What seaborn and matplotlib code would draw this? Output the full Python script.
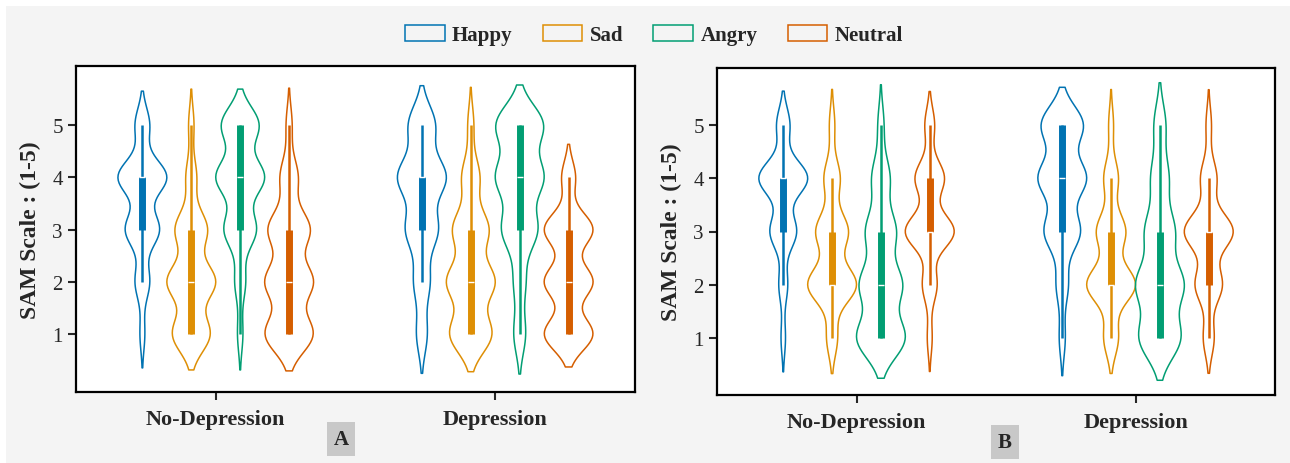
import numpy as np
import pandas as pd
import matplotlib
matplotlib.use("Agg")
import matplotlib.pyplot as plt
from matplotlib.patches import Rectangle
import seaborn as sns

# SAM-vurderinger (1-5): antall svar per verdi, lest av figuren
ratings = [1, 2, 3, 4, 5]
emotions = ["Happy", "Sad", "Angry", "Neutral"]
groups = ["No-Depression", "Depression"]

# Panel A
a_nodep_happy = [1, 3, 7, 10, 3]
a_nodep_sad = [7, 9, 6, 2, 1]
a_nodep_angry = [1, 2, 6, 9, 7]
a_nodep_neutral = [8, 8, 7, 3, 1]
a_dep_happy = [2, 3, 6, 9, 5]
a_dep_sad = [7, 8, 6, 3, 1]
a_dep_angry = [2, 2, 6, 8, 8]
a_dep_neutral = [7, 7, 7, 2, 0]

# Panel B
b_nodep_happy = [1, 2, 6, 11, 3]
b_nodep_sad = [2, 9, 6, 3, 1]
b_nodep_angry = [8, 7, 5, 3, 1]
b_nodep_neutral = [1, 3, 10, 6, 2]
b_dep_happy = [1, 2, 6, 8, 7]
b_dep_sad = [3, 10, 6, 3, 1]
b_dep_angry = [7, 8, 5, 3, 2]
b_dep_neutral = [2, 5, 9, 3, 1]

panel_a = {
    ("No-Depression", "Happy"): a_nodep_happy, ("No-Depression", "Sad"): a_nodep_sad,
    ("No-Depression", "Angry"): a_nodep_angry, ("No-Depression", "Neutral"): a_nodep_neutral,
    ("Depression", "Happy"): a_dep_happy, ("Depression", "Sad"): a_dep_sad,
    ("Depression", "Angry"): a_dep_angry, ("Depression", "Neutral"): a_dep_neutral,
}
panel_b = {
    ("No-Depression", "Happy"): b_nodep_happy, ("No-Depression", "Sad"): b_nodep_sad,
    ("No-Depression", "Angry"): b_nodep_angry, ("No-Depression", "Neutral"): b_nodep_neutral,
    ("Depression", "Happy"): b_dep_happy, ("Depression", "Sad"): b_dep_sad,
    ("Depression", "Angry"): b_dep_angry, ("Depression", "Neutral"): b_dep_neutral,
}


def to_long(counts):
    # Bygger en lang tabell: en rad per svar
    rows = []
    for (grp, emo), cnt in counts.items():
        for val in np.repeat(ratings, cnt):
            rows.append({"group": grp, "emotion": emo, "score": val})
    return pd.DataFrame(rows)


sns.set_style("ticks")
plt.rcParams["font.family"] = ["Liberation Serif", "DejaVu Serif"]

palette = sns.color_palette("colorblind", 4)

fig = plt.figure(figsize=(12.9, 4.64), dpi=100, facecolor="white")
fig.patches.append(Rectangle((6 / 1290, 0), 1, 1 - 7 / 464, transform=fig.transFigure,
                             facecolor="#f4f4f4", edgecolor="none", zorder=-10))

ax_a = fig.add_axes([76 / 1290, 71 / 464, 559 / 1290, 326 / 464])
ax_b = fig.add_axes([717 / 1290, 68 / 464, 558 / 1290, 327 / 464])

for ax, counts, ylim in [(ax_a, panel_a, (-0.11, 6.13)), (ax_b, panel_b, (-0.07, 6.07))]:
    df = to_long(counts)
    sns.violinplot(data=df, x="group", y="score", hue="emotion", order=groups,
                   hue_order=emotions, palette=palette, fill=False, width=0.7,
                   density_norm="width", bw_adjust=0.6, cut=2, linewidth=1.1,
                   inner="box",
                   inner_kws=dict(box_width=5, whis_width=1.8, solid_capstyle="butt"),
                   ax=ax)
    ax.set_facecolor("white")
    ax.set_ylim(*ylim)
    ax.set_xlim(-0.5, 1.5)
    ax.set_yticks([1, 2, 3, 4, 5])
    ax.set_xlabel("")
    ax.set_ylabel("SAM Scale : (1-5)", fontsize=17, fontweight="bold", labelpad=8)
    ax.tick_params(axis="y", labelsize=15, length=6, width=1.5)
    ax.tick_params(axis="x", labelsize=16, length=6, width=1.5, pad=6)
    for lab in ax.get_xticklabels():
        lab.set_fontweight("bold")
    for sp in ax.spines.values():
        sp.set_visible(True)
        sp.set_linewidth(1.6)
        sp.set_color("black")
    # Medianmarkøren skal være hvit
    for ln in ax.lines:
        if ln.get_marker() in ("_", "|"):
            ln.set_color("white")
            ln.set_marker("_")

handles, labels = ax_a.get_legend_handles_labels()
ax_a.get_legend().remove()
ax_b.get_legend().remove()
fig.legend(handles, labels, loc="center", bbox_to_anchor=(654 / 1290, 1 - 36 / 464), ncol=4,
           frameon=False, prop={"weight": "bold", "size": 15}, handlelength=1.9,
           handleheight=0.8, handletextpad=0.35, columnspacing=1.45)

for txt, xc, yc in [("A", 341, 440), ("B", 1005, 443)]:
    fig.text(xc / 1290, 1 - yc / 464, txt, ha="center", va="center", fontsize=15,
             fontweight="bold", bbox=dict(facecolor="#c8c8c8", edgecolor="none", pad=5))

fig.savefig("out.png", dpi=100, facecolor=fig.get_facecolor())
